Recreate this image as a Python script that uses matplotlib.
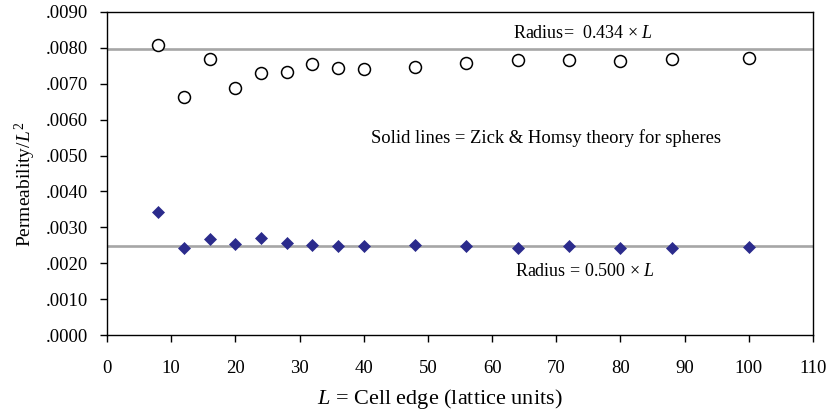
import matplotlib
matplotlib.use("Agg")
import matplotlib.pyplot as plt
from matplotlib.ticker import FuncFormatter, MultipleLocator

plt.rcParams['font.family'] = ['Liberation Serif', 'DejaVu Serif']
plt.rcParams['mathtext.fontset'] = 'custom'
plt.rcParams['mathtext.rm'] = 'Liberation Serif'
plt.rcParams['mathtext.it'] = 'Liberation Serif:italic'

# Cell edge length L (lattice units)
cell_edge = [8, 12, 16, 20, 24, 28, 32, 36, 40, 48, 56, 64, 72, 80, 88, 100]

# Simulated permeability / L^2 for two sphere radii
perm_r0434 = [0.00809, 0.00663, 0.00768, 0.00689, 0.00731, 0.00733, 0.00756,
              0.00744, 0.00742, 0.00747, 0.00757, 0.00766, 0.00766, 0.00764,
              0.00769, 0.00771]
perm_r0500 = [0.00342, 0.00243, 0.00267, 0.00253, 0.00270, 0.00255, 0.00252,
              0.00247, 0.00249, 0.00251, 0.00247, 0.00243, 0.00247, 0.00243,
              0.00243, 0.00245]

# Zick & Homsy theory values
theory_r0434 = 0.00796
theory_r0500 = 0.00249

x_range = [0, 110]
y_range = [0.0, 0.0090]

fig = plt.figure(figsize=(8.3, 4.15), dpi=100)
ax = fig.add_axes([107 / 830, 1 - 335 / 415, (813 - 107) / 830, (335 - 12) / 415])

line_col = '#a6a6a6'
ax.plot(x_range, [theory_r0434, theory_r0434], color=line_col, lw=1.9, zorder=1)
ax.plot(x_range, [theory_r0500, theory_r0500], color=line_col, lw=1.9, zorder=1)

ax.plot(cell_edge, perm_r0434, linestyle='none', marker='o', ms=8.6,
        mfc='white', mec='black', mew=1.1, zorder=3)
ax.plot(cell_edge, perm_r0500, linestyle='none', marker='D', ms=6.0,
        mfc='#2b2b8c', mec='#2b2b8c', mew=0.5, zorder=3)

ax.set_xlim(*x_range)
ax.set_ylim(*y_range)
ax.xaxis.set_major_locator(MultipleLocator(10))
ax.yaxis.set_major_locator(MultipleLocator(0.001))
ax.yaxis.set_major_formatter(FuncFormatter(lambda v, p: f"{v:.4f}".lstrip('0')))

for s in ax.spines.values():
    s.set_linewidth(1.0)
    s.set_color('black')
ax.tick_params(direction='out', length=5, width=1.0, labelsize=13.5)
ax.tick_params(axis='x', pad=13)
ax.tick_params(axis='y', pad=9)

ax.set_xlabel(r'$L$ = Cell edge (lattice units)', fontsize=16)
ax.set_ylabel(r'Permeability/$L^2$', fontsize=14)
ax.xaxis.set_label_coords(0.472, -0.162)
ax.yaxis.set_label_coords(-0.098, 0.467)

ax.text(74.2, 0.00841, 'Radius=  0.434 × $L$', ha='center', va='center', fontsize=13)
ax.text(68.4, 0.00549, 'Solid lines = Zick & Homsy theory for spheres',
        ha='center', va='center', fontsize=13.4)
ax.text(74.5, 0.00178, 'Radius = 0.500 × $L$', ha='center', va='center', fontsize=13)

fig.savefig('out.png', dpi=100)
